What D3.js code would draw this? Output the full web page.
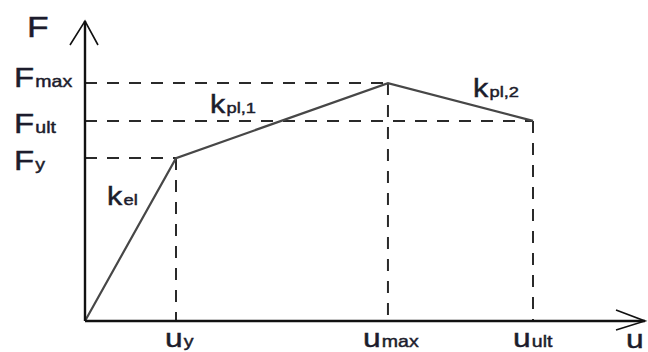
<!DOCTYPE html>
<html>
<head>
<meta charset="utf-8">
<script src="https://cdn.jsdelivr.net/npm/d3@7"></script>
<style>
  html, body { margin: 0; padding: 0; background: #fff; }
  svg { display: block; }
  text { font-family: "Liberation Sans", Arial, sans-serif; fill: #1c1c2c; stroke: #1c1c2c; stroke-width: 0.45; }
</style>
</head>
<body>
<svg id="chart" width="648" height="352"></svg>
<script>
// Force-displacement curve: elastic branch, hardening branch, softening branch
const uNames = ["y", "max", "ult"];
const uValues = [16.25, 54.1, 80];          // displacement at yield, peak, ultimate
const fNames = ["y", "max", "ult"];
const fValues = [54.3, 79.3, 66.7];         // force at yield, peak, ultimate
const curveU = [0, 16.25, 54.1, 80];
const curveF = [0, 54.3, 79.3, 66.7];
const stiffnessLabels = [
  { main: "k", sub: "el" },
  { main: "k", sub: "pl,1" },
  { main: "k", sub: "pl,2" }
];

const svg = d3.select("#chart");
const x = d3.scaleLinear().domain([0, 100]).range([85, 645]);
const y = d3.scaleLinear().domain([0, 100]).range([321, 21]);

// dashed guide lines from each characteristic point to both axes
const pts = curveU.slice(1).map((u, i) => ({ u, f: curveF[i + 1] }));
const guides = svg.append("g")
  .attr("stroke", "#2a2a2a").attr("stroke-width", 2)
  .attr("stroke-dasharray", "12,10").attr("fill", "none");
pts.forEach(p => {
  guides.append("line").attr("x1", x(0)).attr("y1", y(p.f)).attr("x2", x(p.u)).attr("y2", y(p.f));
  guides.append("line").attr("x1", x(p.u)).attr("y1", y(p.f)).attr("x2", x(p.u)).attr("y2", y(0));
});

// the curve
const line = d3.line().x(d => x(d[0])).y(d => y(d[1]));
svg.append("path")
  .datum(curveU.map((u, i) => [u, curveF[i]]))
  .attr("d", line)
  .attr("fill", "none").attr("stroke", "#474747").attr("stroke-width", 2.2)
  .attr("stroke-linejoin", "miter");

// axes with open arrow heads
const axes = svg.append("g").attr("stroke", "#111").attr("stroke-width", 2.4).attr("fill", "none");
axes.append("line").attr("x1", x(0)).attr("y1", y(0)).attr("x2", x(0)).attr("y2", y(100));
axes.append("line").attr("x1", x(0)).attr("y1", y(0)).attr("x2", x(100)).attr("y2", y(0));
axes.append("path").attr("stroke-width", 1.6)
  .attr("d", `M${x(0) - 15},${y(100) + 24} L${x(0)},${y(100)} L${x(0) + 13},${y(100) + 24}`);
axes.append("path").attr("stroke-width", 1.6)
  .attr("d", `M${x(100) - 29},${y(0) - 11} L${x(100)},${y(0)} L${x(100) - 29},${y(0) + 9}`);

// label helper: main letter with a subscript, stretched horizontally
function label(px, py, main, sub, mainSize, subSize) {
  const g = svg.append("g").attr("transform", `translate(${px},${py}) scale(1.22,1)`);
  const t = g.append("text").attr("x", 0).attr("y", 0);
  t.append("tspan").attr("font-size", mainSize).text(main);
  if (sub) t.append("tspan").attr("font-size", subSize).attr("dx", 1).text(sub);
  return g;
}

// axis titles
label(27, 37, "F", null, 29);
label(626, 348, "u", null, 26);

// force labels on the vertical axis
const fDy = [12, 4, 12];
fNames.forEach((n, i) => label(14, y(fValues[i]) + fDy[i], "F", n, 27, 16));

// displacement labels under the horizontal axis
const uDx = [-11, -25, -20];
uNames.forEach((n, i) => label(x(uValues[i]) + uDx[i], 347, "u", n, 26, 16));

// stiffness labels beside each branch
const kPos = [[107, 205], [210, 113], [473, 97]];
stiffnessLabels.forEach((k, i) => label(kPos[i][0], kPos[i][1], k.main, k.sub, 25, 15));
</script>
</body>
</html>
